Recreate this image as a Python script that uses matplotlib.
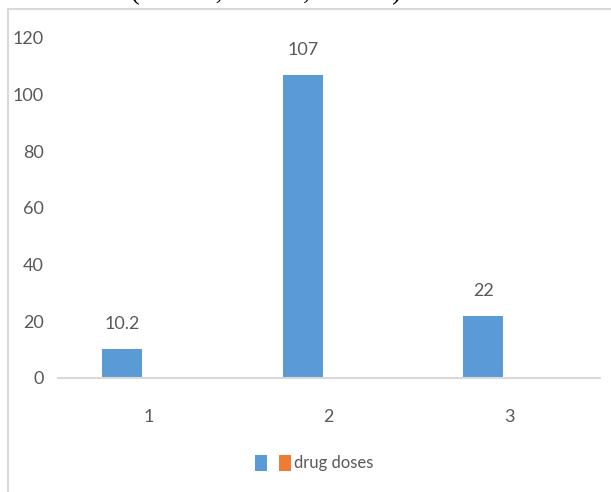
import numpy as np
import matplotlib.pyplot as plt
from matplotlib.patches import Rectangle

categories = ["1", "2", "3"]
series_a = [10.2, 107, 22]
drug_doses = [0, 0, 0]
value_labels = ["10.2", "107", "22"]

blue = "#5B9BD5"
orange = "#ED7D31"
grey_text = "#595959"

plt.rcParams['font.family'] = ['Lato', 'DejaVu Sans']

fig = plt.figure(figsize=(6.11, 4.92), dpi=100)

# outer chart frame (top and left edges show, the rest runs off the page)
frame = Rectangle((8 / 611, -0.1), 1.2, 1 - 9 / 492 + 0.1,
                  transform=fig.transFigure, facecolor="white",
                  edgecolor="#D9D9D9", linewidth=1.5, zorder=-10)
fig.patches.append(frame)

# title, mostly above the frame
fig.text(252 / 611, 1 - 5 / 492, "td (1=CPP,2=CPE,3=CPC)", family="Liberation Serif",
         fontsize=20, ha="center", va="bottom", color="black")

ax = fig.add_axes([58 / 611, 1 - 378 / 492, (599.5 - 58) / 611, (378 - 38) / 492])
ax.set_facecolor("none")
ax.set_zorder(5)

ind = np.arange(len(categories))
width = 0.222
bars_a = ax.bar(ind - 0.144, series_a, width, color=blue)
bars_b = ax.bar(ind + 0.1, drug_doses, width, color=orange)

for rect, lab in zip(bars_a, value_labels):
    ax.text(rect.get_x() + rect.get_width() / 2, rect.get_height() + 6, lab,
            ha="center", va="bottom", fontsize=13, color=grey_text)

ax.set_xlim(-0.5, 2.5)
ax.set_ylim(0, 120)
ax.set_yticks(range(0, 121, 20))
ax.set_xticks(ind)
ax.set_xticklabels(categories)
ax.tick_params(axis="y", length=0, pad=10, labelsize=13, labelcolor=grey_text)
ax.tick_params(axis="x", length=0, pad=22, labelsize=13, labelcolor=grey_text)
for side in ["top", "right", "left"]:
    ax.spines[side].set_visible(False)
ax.spines["bottom"].set_color("#D9D9D9")
ax.spines["bottom"].set_linewidth(1.5)

leg = fig.legend([bars_a[0], bars_b[0]], ["", "drug doses"], loc="center",
                 bbox_to_anchor=(314 / 611, 1 - 463 / 492), ncol=2, frameon=False,
                 fontsize=12, handlelength=0.75, handleheight=1.1, handletextpad=0.15,
                 columnspacing=0.55)
for t in leg.get_texts():
    t.set_color(grey_text)

fig.savefig("out.png", dpi=100)
